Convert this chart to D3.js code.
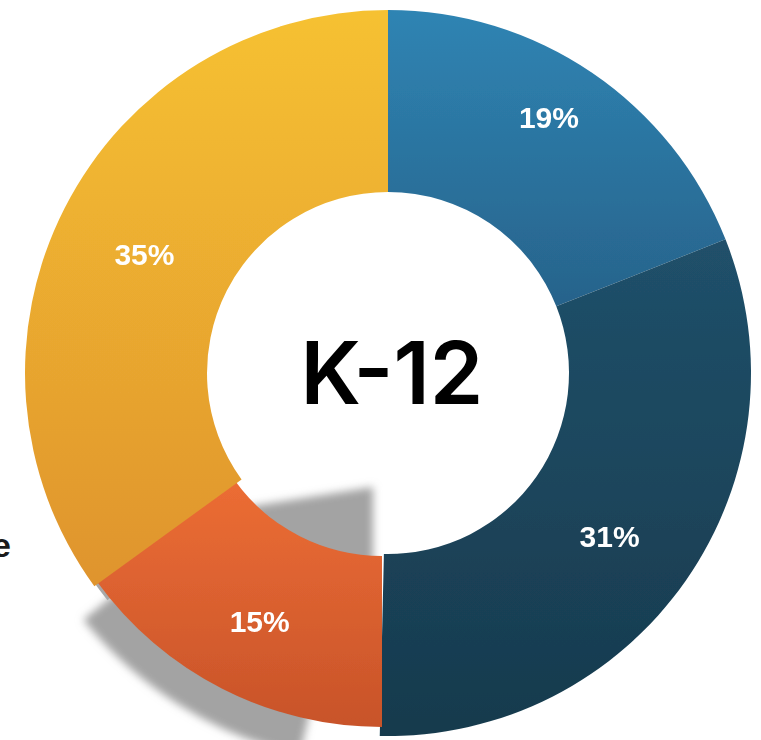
<!DOCTYPE html>
<html><head><meta charset="utf-8">
<script src="https://cdn.jsdelivr.net/npm/d3@7"></script>
<style>
html,body{margin:0;padding:0;background:#fff;overflow:hidden;}
svg{display:block;}
</style></head>
<body>
<div id="chart"></div>
<script>
// ---- data ----
const categories = ["Segment A", "Segment B", "Segment C", "Segment D"];
const values = [19, 31, 15, 35];
const valueLabels = ["19%", "31%", "15%", "35%"];
const centerTitle = "K-12";
const legendFragment = "e";

// ---- style / layout constants ----
const W = 761, H = 740;
const cx = 388, cy = 373, ro = 363, ri = 181;
const gradients = [
  ["#2F84B3", "#27638B"],
  ["#20506A", "#173A4D"],
  ["#EC6D34", "#C8532A"],
  ["#F6C131", "#DF942E"]
];
const labelRadius = [302, 275, 275, 271];
const labelAngleShift = [-2, 2.1, -0.6, -1]; // degrees
const activeIndex = 2; // the lifted slice
const toRad = d => d * Math.PI / 180;

const svg = d3.select("#chart").append("svg").attr("width", W).attr("height", H);
const defs = svg.append("defs");

gradients.forEach((g, i) => {
  const lg = defs.append("linearGradient").attr("id", "g" + i)
    .attr("x1", 0).attr("y1", 0).attr("x2", 0).attr("y2", 1);
  lg.append("stop").attr("offset", "0%").attr("stop-color", g[0]);
  lg.append("stop").attr("offset", "100%").attr("stop-color", g[1]);
});
const blur = defs.append("filter").attr("id", "shadowBlur")
  .attr("x", "-20%").attr("y", "-20%").attr("width", "140%").attr("height", "140%");
blur.append("feGaussianBlur").attr("stdDeviation", 4);
const soft = defs.append("filter").attr("id", "soft");
soft.append("feGaussianBlur").attr("stdDeviation", 0.5);

const pie = d3.pie().sort(null).value(d => d)
  .startAngle(0).endAngle(2 * Math.PI);
const arcs = pie(values);
const arc = d3.arc().innerRadius(ri).outerRadius(ro);
const activeArc = d3.arc().innerRadius(ri).outerRadius(ro - 11);

// legend fragment cut by left edge
svg.append("text")
  .attr("x", 11).attr("y", 557)
  .attr("text-anchor", "end")
  .attr("font-family", "Liberation Sans, Arial, sans-serif")
  .attr("font-weight", "bold")
  .attr("font-size", 34)
  .attr("fill", "#1b1b1b")
  .text(legendFragment);

// drop shadow of lifted slice
const a = arcs[activeIndex];
const sh = svg.append("g").attr("filter", "url(#shadowBlur)").attr("fill", "#a3a3a3");
sh.append("path")
  .attr("transform", `translate(${cx - 15},${cy + ri - 67})`)
  .attr("d", d3.arc()({innerRadius: 0, outerRadius: 200,
      startAngle: a.startAngle, endAngle: toRad(261)}));
sh.append("path")
  .attr("transform", `translate(${cx},${cy})`)
  .attr("d", d3.arc()({innerRadius: 240, outerRadius: 392,
      startAngle: a.startAngle + toRad(13), endAngle: a.endAngle - toRad(3)}));
svg.append("path")
  .attr("transform", `translate(${cx},${cy})`)
  .attr("fill", "#a8a8a8")
  .attr("d", d3.arc()({innerRadius: ri + 20, outerRadius: ro - 2,
      startAngle: a.endAngle - toRad(3), endAngle: a.endAngle + toRad(1)}));

// slices
const g = svg.append("g").attr("filter", "url(#soft)");
arcs.forEach((d, i) => {
  const isActive = i === activeIndex;
  const dd = (i === activeIndex - 1) ? Object.assign({}, d, {endAngle: d.endAngle + toRad(1.3)}) : d;
  g.append("path")
    .attr("transform", isActive ? `translate(${cx - 6},${cy + 2})` : `translate(${cx},${cy})`)
    .attr("d", isActive ? activeArc(dd) : arc(dd))
    .attr("fill", `url(#g${i})`);
});

// value labels
arcs.forEach((d, i) => {
  const mid = (d.startAngle + d.endAngle) / 2 + toRad(labelAngleShift[i]);
  const r = labelRadius[i];
  const ox = i === activeIndex ? -6 : 0, oy = i === activeIndex ? 2 : 0;
  svg.append("text")
    .attr("x", cx + ox + r * Math.sin(mid))
    .attr("y", cy + oy - r * Math.cos(mid))
    .attr("dy", "0.36em")
    .attr("text-anchor", "middle")
    .attr("font-family", "Liberation Sans, Arial, sans-serif")
    .attr("font-weight", "bold")
    .attr("font-size", 30)
    .attr("fill", "#ffffff")
    .text(valueLabels[i]);
});

// center title
svg.append("text")
  .attr("x", cx + 4).attr("y", cy)
  .attr("dy", "0.36em")
  .attr("text-anchor", "middle")
  .attr("font-family", "Inter, Lato, sans-serif")
  .attr("font-weight", 600)
  .attr("font-size", 86)
  .attr("fill", "#000")
  .text(centerTitle);
</script>
</body></html>
